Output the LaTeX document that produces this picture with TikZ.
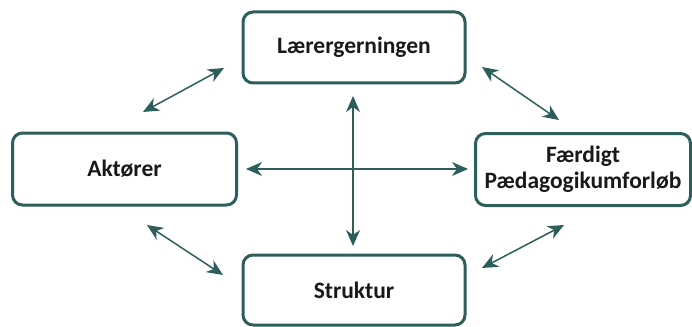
\documentclass[tikz,border=0pt]{standalone}
\usepackage{fontspec}
\setmainfont{Carlito}
\usetikzlibrary{arrows.meta}
\definecolor{teal}{HTML}{2E5E5B}
\tikzset{
  box/.style={draw=teal, line width=3pt, rounded corners=10pt, fill=white,
    font=\bfseries\fontsize{23.5}{26}\selectfont, text=black!90, align=center, inner sep=0pt},
  link/.style={draw=teal, line width=1.5pt,
    {Stealth[length=16pt,width=14pt,inset=5pt]}-{Stealth[length=16pt,width=14pt,inset=5pt]}}
}
\begin{document}
\begin{tikzpicture}[x=1pt,y=-1pt]
  \useasboundingbox (0,0) rectangle (692,326);
  % the four boxes
  \node[box, minimum width=222pt, minimum height=71pt] (lg) at (354,47.5) {Lærergerningen};
  \node[box, minimum width=224pt, minimum height=72pt] (ak) at (124.5,169) {Aktører};
  \node[box, minimum width=215pt, minimum height=72pt] (pf) at (583,169.5) {Færdigt\\Pædagogikumforløb};
  \node[box, minimum width=222pt, minimum height=70pt] (st) at (354,290) {Struktur};
  % cross in the middle
  \coordinate (vt) at (353,96);
  \coordinate (vb) at (353,246);
  \coordinate (hl) at (246,169);
  \coordinate (hr) at (468,169);
  \draw[link] (vt) -- (vb);
  \draw[link] (hl) -- (hr);
  % diagonal links between neighbouring boxes
  \coordinate (a1) at (143,112); \coordinate (a2) at (224,68);
  \coordinate (b1) at (482,67);  \coordinate (b2) at (559,120);
  \coordinate (c1) at (147,225); \coordinate (c2) at (223,275);
  \coordinate (d1) at (482,268); \coordinate (d2) at (564,225);
  \draw[link] (a1) -- (a2);
  \draw[link] (b1) -- (b2);
  \draw[link] (c1) -- (c2);
  \draw[link] (d1) -- (d2);
\end{tikzpicture}
\end{document}
